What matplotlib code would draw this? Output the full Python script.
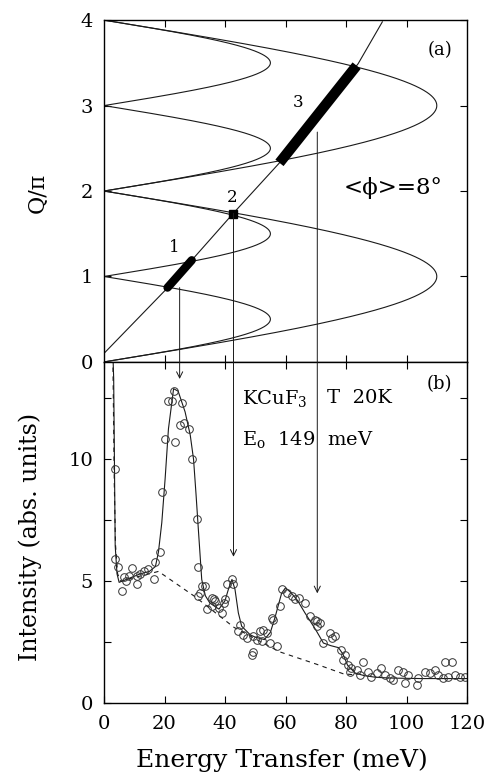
import numpy as np
import matplotlib
matplotlib.use("Agg")
import matplotlib.pyplot as plt
from matplotlib.patches import ConnectionPatch

plt.rcParams['font.family'] = ['DejaVu Serif']
plt.rcParams['mathtext.fontset'] = 'dejavuserif'

# ---- panel (a): dispersion boundaries and kinematic line ----
E_upper_max = 110.0   # meV, max of upper boundary (at Q/pi = 1, 3)
E_lower_max = 55.0    # meV, max of lower boundary (at Q/pi = 0.5, 1.5, ...)

kin_E = [0, 20, 42.5, 58, 70, 84, 92]
kin_q = [0.10, 0.83, 1.73, 2.33, 2.86, 3.49, 3.98]

seg1_E = [21, 29]
seg3_E = [58, 83.5]
pt2_E = 42.5

arrow_E = [25, 42.8, 70.5]
arrow_q_start = [0.87, 1.74, 2.69]
arrow_I_tip = [13.3, 6.0, 4.5]

# ---- panel (b): KCuF3, T 20K, E0 149 meV ----
data_E = [3.5, 3.7, 4.6, 5.9, 6.5, 7.2, 8.1, 9.2, 10.9, 10.9, 12.0, 13.1, 14.7,
          16.4, 16.9, 18.6, 19.1, 20.2, 21.3, 22.4, 23.0, 23.5, 25.2, 25.7,
          26.5, 28.0, 29.0, 30.7, 31.0, 31.2, 31.8, 32.3, 33.4, 34.0, 35.6,
          35.6, 36.2, 36.7, 37.9, 38.9, 39.5, 40.0, 40.6, 42.2, 42.8, 44.4,
          45.0, 46.1, 47.2, 48.8, 49.4, 49.4, 50.5, 51.6, 52.1, 52.7, 53.8,
          54.9, 55.4, 56.0, 57.2, 58.2, 58.7, 60.4, 62.0, 63.1, 64.3, 66.4,
          68.1, 69.8, 70.3, 70.3, 71.4, 72.5, 74.7, 75.2, 76.3, 78.5, 79.1,
          79.6, 80.8, 81.3, 81.8, 83.5, 84.6, 85.7, 87.4, 88.4, 90.1, 91.7,
          92.8, 94.5, 95.6, 97.3, 98.9, 99.4, 100.6, 103.3, 103.9, 106.0,
          107.7, 109.3, 110.5, 112.1, 112.7, 113.7, 114.9, 116.0, 117.6, 119.3]
data_I = [9.6, 5.9, 5.6, 4.6, 5.15, 5.0, 5.2, 5.55, 5.2, 4.87, 5.3, 5.4, 5.5,
          5.07, 5.8, 6.2, 8.65, 10.85, 12.4, 12.4, 12.8, 10.7, 11.4, 12.3,
          11.5, 11.25, 10.0, 7.55, 5.57, 4.4, 4.5, 4.8, 4.8, 3.84, 4.3,
          3.97, 4.25, 4.18, 3.9, 3.7, 4.1, 4.25, 4.9, 5.07, 4.87, 2.94,
          3.2, 2.8, 2.66, 1.98, 2.73, 2.1, 2.6, 2.94, 2.53, 3.0, 2.87,
          2.46, 3.5, 3.42, 2.35, 3.97, 4.66, 4.52, 4.38, 4.25, 4.32, 4.1,
          3.56, 3.42, 3.35, 3.15, 3.28, 2.46, 2.87, 2.66, 2.73, 2.19, 1.77,
          1.98, 1.57, 1.29, 1.43, 1.36, 1.15, 1.7, 1.29, 1.08, 1.22, 1.43,
          1.15, 1.01, 0.95, 1.36, 1.29, 0.81, 1.15, 0.74, 1.01, 1.29,
          1.22, 1.36, 1.15, 1.01, 1.7, 1.08, 1.7, 1.15, 1.08, 1.05]

fit_E = [2.9, 3.2, 3.7, 4.3, 5.0, 8.0, 12.0, 15.0, 17.0, 18.0, 19.1, 20.2,
         21.3, 23.0, 24.5, 26.8, 28.5, 29.6, 30.4, 31.2, 32.3, 33.5, 35.0,
         38.0, 40.0, 41.2, 42.3, 43.3, 44.4, 45.5, 48.3, 50.0, 53.0, 55.0,
         56.5, 58.7, 60.0, 62.0, 64.0, 66.4, 70.0, 72.5, 75.0, 77.5, 79.0,
         80.5, 83.0, 86.0, 90.0, 95.0, 105.0, 120.0]
fit_I = [14.5, 13.3, 6.45, 5.3, 4.95, 5.1, 5.3, 5.4, 5.6, 6.2, 7.4, 9.2,
         11.25, 12.9, 12.8, 11.95, 11.0, 10.0, 8.6, 7.1, 5.07, 4.4, 4.1,
         3.85, 4.2, 4.7, 5.07, 4.66, 3.7, 3.15, 2.8, 2.7, 2.6, 2.9,
         3.5, 4.5, 4.73, 4.5, 4.2, 3.7, 3.0, 2.46, 2.35, 2.27, 2.0,
         1.55, 1.23, 1.12, 1.05, 1.02, 1.0, 1.0]

bg_E = [2.9, 3.4, 3.8, 4.5, 5.5, 10, 15, 18, 30, 43, 58, 70, 79, 83]
bg_I = [14.5, 9.0, 6.5, 5.3, 5.0, 5.15, 5.3, 5.4, 4.37, 3.1, 2.1, 1.6, 1.2, 1.15]

fig = plt.figure(figsize=(4.86, 7.75), dpi=100)
ax1 = fig.add_axes([0.214, 0.533, 0.747, 0.441])
ax2 = fig.add_axes([0.214, 0.093, 0.747, 0.440])

line_kw = dict(color='#1a1a1a', lw=0.8)

# boundaries (des Cloizeaux-Pearson lower / upper)
q = np.linspace(0, 4, 801)
ax1.plot(E_lower_max * np.abs(np.sin(np.pi * q)), q, **line_kw)
ax1.plot(E_upper_max * np.abs(np.sin(np.pi * q / 2)), q, **line_kw)
ax1.plot(kin_E, kin_q, **line_kw)

s1q = np.interp(seg1_E, kin_E, kin_q)
s3q = np.interp(seg3_E, kin_E, kin_q)
ax1.plot(seg1_E, s1q, color='black', lw=6, solid_capstyle='round')
ax1.plot(seg3_E, s3q, color='black', lw=7.5, solid_capstyle='butt')
ax1.plot([pt2_E], [np.interp(pt2_E, kin_E, kin_q)], 's', color='black', ms=6)

ax1.text(23.2, 1.34, '1', fontsize=12, ha='center', va='center')
ax1.text(42.4, 1.93, '2', fontsize=12, ha='center', va='center')
ax1.text(64.2, 3.04, '3', fontsize=12, ha='center', va='center')
ax1.text(111, 3.65, '(a)', fontsize=13, ha='center', va='center')
ax1.text(95.5, 2.03, '<ϕ>=8°', fontsize=16.5, ha='center', va='center')

ax1.set_xlim(0, 120)
ax1.set_ylim(0, 4)
ax1.set_yticks([0, 1, 2, 3, 4])
ax1.set_xticks([20, 40, 60, 80, 100])
ax1.tick_params(direction='in', length=5, width=0.8, top=True, right=True,
                labelbottom=False, labelsize=14, pad=8)
ax1.set_ylabel('Q/π', fontsize=16)
ax1.yaxis.set_label_coords(-0.152, 0.494)

# ---- panel (b) ----
ax2.plot(bg_E, bg_I, color='#1a1a1a', lw=0.8, ls=(0, (4, 4)))
ax2.plot(fit_E, fit_I, **line_kw)
ax2.plot(data_E, data_I, 'o', mfc='none', mec='#333333', mew=0.7, ms=5.5)

ax2.text(45.5, 12.5, r'KCuF$_3$', fontsize=14, ha='left', va='center')
ax2.text(73.6, 12.5, 'T  20K', fontsize=14, ha='left', va='center')
ax2.text(45.5, 10.8, r'E$_\mathrm{o}$  149  meV', fontsize=14, ha='left', va='center')
ax2.text(111, 13.1, '(b)', fontsize=13, ha='center', va='center')

ax2.set_xlim(0, 120)
ax2.set_ylim(0, 14)
ax2.set_xticks([0, 20, 40, 60, 80, 100, 120])
ax2.set_yticks([0, 5, 10])
ax2.set_yticks([2.5, 7.5, 12.5], minor=True)
ax2.tick_params(which='both', direction='in', length=5, width=0.8, top=True,
                right=True, labelsize=14, pad=8)
ax2.tick_params(axis='x', pad=9)
ax2.set_xlabel('Energy Transfer (meV)', fontsize=18)
ax2.xaxis.set_label_coords(0.49, -0.135)
ax2.set_ylabel('Intensity (abs. units)', fontsize=17)
ax2.yaxis.set_label_coords(-0.171, 0.487)

for ax in (ax1, ax2):
    for sp in ax.spines.values():
        sp.set_linewidth(1.0)

# arrows from panel (a) down into panel (b)
for e, qs, it in zip(arrow_E, arrow_q_start, arrow_I_tip):
    con = ConnectionPatch(xyA=(e, qs), coordsA=ax1.transData,
                          xyB=(e, it), coordsB=ax2.transData,
                          arrowstyle='->', mutation_scale=11, lw=0.7,
                          color='#1a1a1a', shrinkA=0, shrinkB=0)
    fig.add_artist(con)

fig.savefig('out.png', dpi=100)
